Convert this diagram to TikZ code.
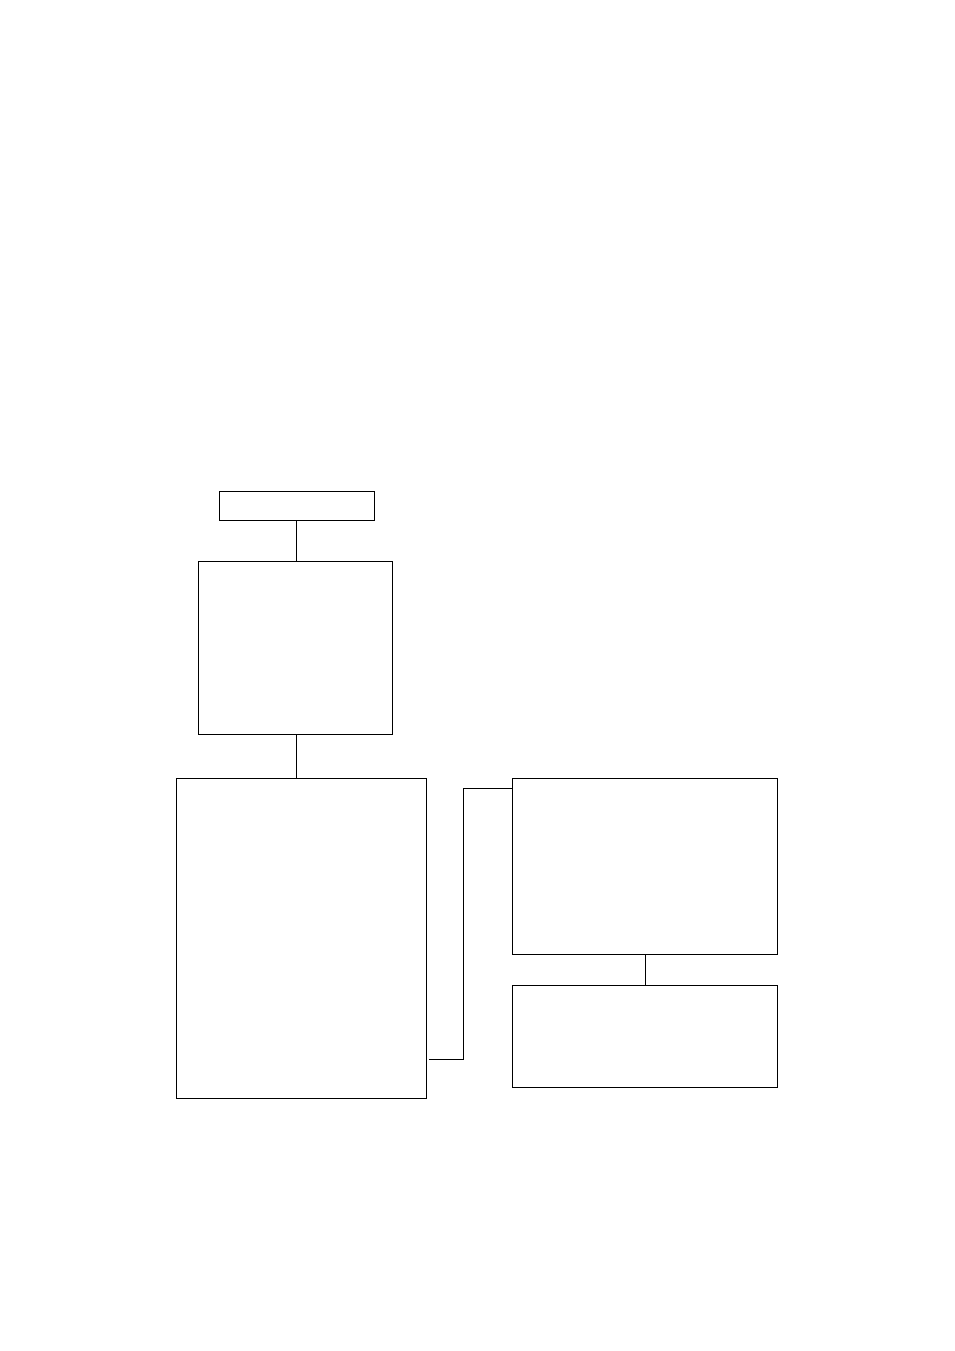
\documentclass[tikz,border=0pt]{standalone}
\begin{document}
\begin{tikzpicture}[x=1pt,y=-1pt,
  box/.style={draw=black,line width=1pt,fill=white,inner sep=0pt,anchor=north west},
  link/.style={draw=black,line width=1pt}]
\useasboundingbox[fill=white] (0,0) rectangle (954,1351);
\node[box,minimum width=155pt,minimum height=29pt] (A) at (219,491) {};
\node[box,minimum width=194pt,minimum height=173pt] (B) at (198,561) {};
\node[box,minimum width=250pt,minimum height=320pt] (C) at (176,778) {};
\node[box,minimum width=265pt,minimum height=176pt] (D) at (512,778) {};
\node[box,minimum width=265pt,minimum height=102pt] (E) at (512,985) {};
\coordinate (j1) at (463,1059);
\coordinate (j2) at (463,788);
\draw[link] (A.south -| 296,0) -- (B.north -| 296,0);
\draw[link] (B.south -| 296,0) -- (C.north -| 296,0);
\draw[link] ([xshift=2pt]C.east |- j1) -- (j1) -- (j2) -- (D.west |- j2);
\draw[link] (D.south) -- (E.north);
\end{tikzpicture}
\end{document}
